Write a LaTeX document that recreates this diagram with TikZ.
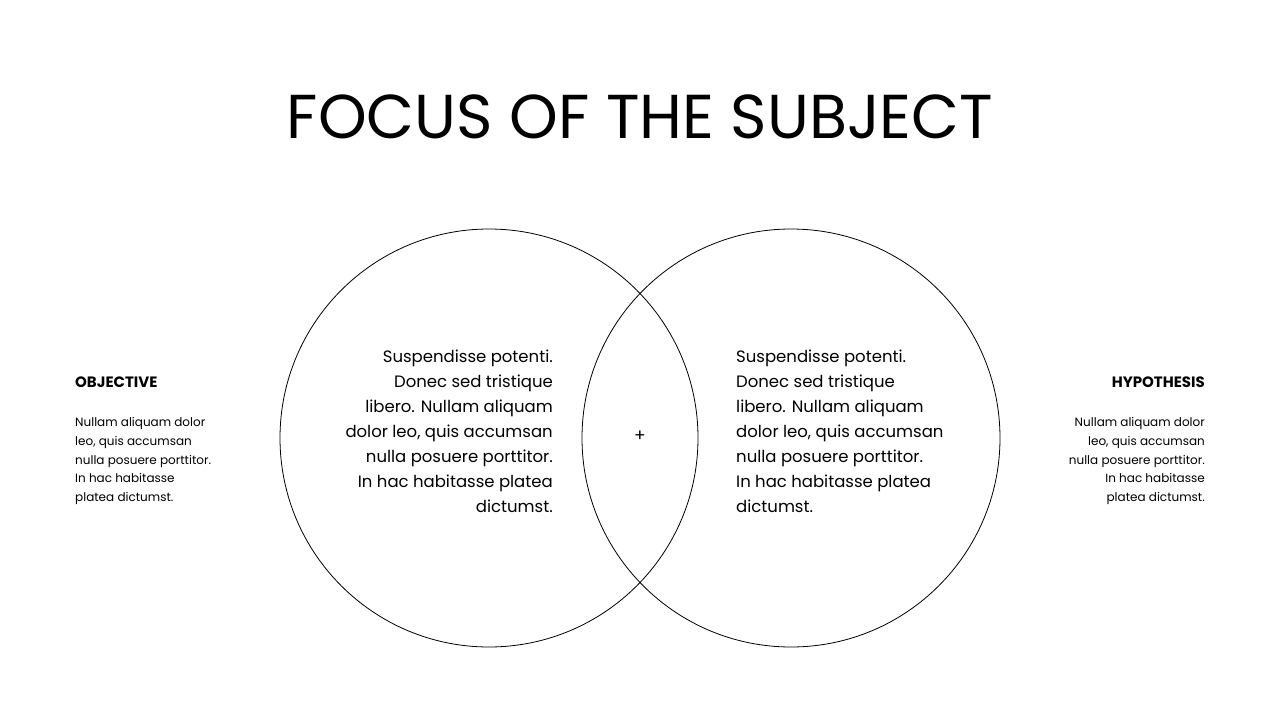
\documentclass[tikz,border=0pt]{standalone}
\usepackage{fontspec}
\setmainfont{Poppins}
\begin{document}
\begin{tikzpicture}[x=1pt,y=-1pt,
  body/.style={font=\fontsize{16.5}{25}\selectfont,inner sep=0pt},
  small/.style={font=\fontsize{12}{18.7}\selectfont,inner sep=0pt},
  head/.style={font=\fontsize{15}{18}\selectfont\bfseries,inner sep=0pt}]
\useasboundingbox (0,0) rectangle (1280,720);
\node[font=\fontsize{62}{70}\selectfont,inner sep=0pt] (title) at (640,117) {FOCUS OF THE SUBJECT};
\draw[line width=0.8pt] (489,438) circle (209);
\draw[line width=0.8pt] (791,438) circle (209);
\node[body,anchor=east,align=right] (lt) at (553,431) {Suspendisse potenti.\\Donec sed tristique\\libero. Nullam aliquam\\dolor leo, quis accumsan\\nulla posuere porttitor.\\In hac habitasse platea\\dictumst.};
\node[body,anchor=west,align=left] (rt) at (736,431) {Suspendisse potenti.\\Donec sed tristique\\libero. Nullam aliquam\\dolor leo, quis accumsan\\nulla posuere porttitor.\\In hac habitasse platea\\dictumst.};
\node[font=\fontsize{17}{20}\selectfont,inner sep=0pt] (plus) at (640,436) {+};
\node[head,anchor=west] (oh) at (75,382) {OBJECTIVE};
\node[small,anchor=west,align=left] (ot) at (75,461) {Nullam aliquam dolor\\leo, quis accumsan\\nulla posuere porttitor.\\In hac habitasse\\platea dictumst.};
\node[head,anchor=east] (hh) at (1205,382) {HYPOTHESIS};
\node[small,anchor=east,align=right] (ht) at (1205,461) {Nullam aliquam dolor\\leo, quis accumsan\\nulla posuere porttitor.\\In hac habitasse\\platea dictumst.};
\end{tikzpicture}
\end{document}
